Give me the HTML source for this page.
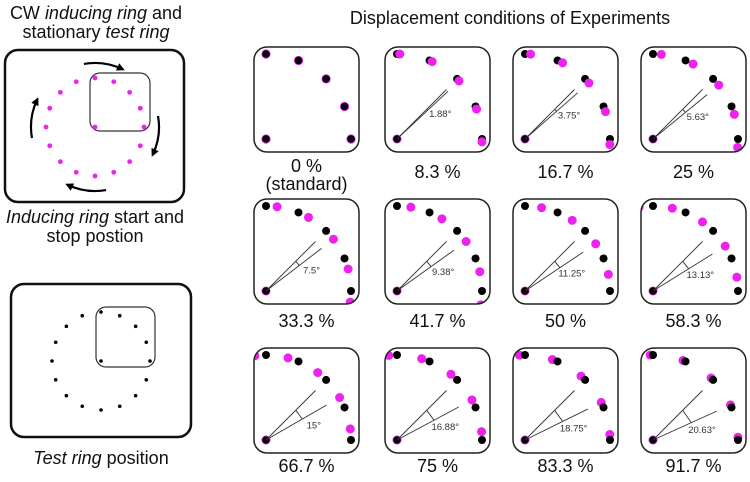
<!DOCTYPE html>
<html><head><meta charset="utf-8"><style>
html,body{margin:0;padding:0;background:#fff;}
svg{display:block;font-family:"Liberation Sans",sans-serif;}
</style></head><body>
<svg id="fig" width="750" height="482" viewBox="0 0 750 482" xmlns="http://www.w3.org/2000/svg">
<defs>
<marker id="ah" markerWidth="8" markerHeight="8" refX="5" refY="4" orient="auto" markerUnits="userSpaceOnUse"><path d="M0,0 L8,4 L0,8 Z" fill="#000"/></marker>
</defs>
<g font-size="18" text-anchor="middle" fill="#111">
<text x="96" y="19">CW <tspan font-style="italic">inducing ring</tspan> and</text>
<text x="96" y="38">stationary <tspan font-style="italic">test ring</tspan></text>
</g>
<rect x="5" y="50" width="179" height="152" rx="13" fill="none" stroke="#111" stroke-width="2.5"/>
<rect x="90" y="73" width="60" height="58" rx="10" fill="none" stroke="#333" stroke-width="1.2"/>
<g id="indRing"></g>
<g id="arrows"></g>
<g font-size="18" text-anchor="middle" fill="#111">
<text x="95" y="223"><tspan font-style="italic">Inducing ring</tspan> start and</text>
<text x="95" y="242">stop postion</text>
</g>
<rect x="11" y="284" width="180" height="153" rx="13" fill="none" stroke="#111" stroke-width="2.5"/>
<rect x="96" y="307" width="59" height="60" rx="10" fill="none" stroke="#333" stroke-width="1.2"/>
<g id="testRing"></g>
<text x="101" y="464" font-size="18" text-anchor="middle" fill="#111"><tspan font-style="italic">Test ring</tspan> position</text>
<text x="510" y="24" font-size="18" text-anchor="middle" fill="#111">Displacement conditions of Experiments</text>
<g id="panels"></g>
</svg>
<script>
const conditionLabels = ["0 %","8.3 %","16.7 %","25 %","33.3 %","41.7 %","50 %","58.3 %","66.7 %","75 %","83.3 %","91.7 %"];
const displacementDeg = [0,1.88,3.75,5.63,7.5,9.38,11.25,13.13,15,16.88,18.75,20.63];
const angleLabels = ["","1.88°","3.75°","5.63°","7.5°","9.38°","11.25°","13.13°","15°","16.88°","18.75°","20.63°"];

const NS="http://www.w3.org/2000/svg";
function mk(tag,attrs,parent){const e=document.createElementNS(NS,tag);for(const k in attrs)e.setAttribute(k,attrs[k]);parent.appendChild(e);return e;}
const rad=a=>a*Math.PI/180;

function ring(g,cx,cy,r,color,rr){
  for(let k=0;k<16;k++){const a=rad(k*22.5);
    const c=mk('circle',{cx:cx+r*Math.cos(a),cy:cy-r*Math.sin(a),r:rr,fill:color},g);
    
    }
  const c=mk('circle',{cx:cx,cy:cy,r:rr,fill:color},g);
  
  
}
ring(document.getElementById('indRing'),95,127,49,'#ee22ee',2.4);
ring(document.getElementById('testRing'),101,361,49,'#000',1.8);
const ag=document.getElementById('arrows');
[[100,65],[10,-25],[-80,-115],[-170,-205]].forEach(([a0,a1])=>{
  const R=64,cx=95,cy=127;
  const p=mk('path',{d:`M${cx+R*Math.cos(rad(a0))},${cy-R*Math.sin(rad(a0))} A${R},${R} 0 0 1 ${cx+R*Math.cos(rad(a1))},${cy-R*Math.sin(rad(a1))}`,fill:'none',stroke:'#000','stroke-width':2.2,'marker-end':'url(#ah)'},ag);
  
  
});

const colX=[254,385,513,641], rowY=[47,199,348], W=105, H=105, labBase=[178,327,472];
const pg=document.getElementById('panels');
displacementDeg.forEach((d,i)=>{
  const x=colX[i%4], y=rowY[Math.floor(i/4)];
  const g=mk('g',{},pg);
  
  
  const cp=mk('clipPath',{id:'cp'+i},g);
  mk('rect',{x:x,y:y,width:W,height:H,rx:13},cp);
  const cx=x+12, cy=y+92, R=85;
  const dots=mk('g',{'clip-path':`url(#cp${i})`},g);
  const drawSet=(color,rr,off,n)=>{for(let k=0;k<n;k++){const a=rad(k*22.5-off);
    const c=mk('circle',{cx:cx+R*Math.cos(a),cy:cy-R*Math.sin(a),r:rr,fill:color},dots);
    
    }};
  const center=(color,rr)=>{const c=mk('circle',{cx:cx,cy:cy,r:rr,fill:color},dots);
    
    };
  if(d===0){drawSet('#ee22ee',4.6,0,5);drawSet('#000',3.8,0,5);center('#ee22ee',4.6);center('#000',3.8);}
  else if(d<11){drawSet('#000',4,0,5);drawSet('#ee22ee',4.5,d,6);center('#ee22ee',4.5);center('#000',3.8);}
  else {drawSet('#ee22ee',4.5,d,6);drawSet('#000',4,0,5);center('#ee22ee',4.5);center('#000',3.8);}
  const fr=mk('rect',{x:x,y:y,width:W,height:H,rx:13,fill:'none',stroke:'#222','stroke-width':1.5},g);
  
  
  if(d>0){
    const L=70;
    [45,45-d].forEach(a=>{const l=mk('line',{x1:cx,y1:cy,x2:cx+L*Math.cos(rad(a)),y2:cy-L*Math.sin(rad(a)),stroke:'#333','stroke-width':0.9},g);
      
      });
    const r2=42;
    const t=mk('line',{x1:cx+r2*Math.cos(rad(45)),y1:cy-r2*Math.sin(rad(45)),x2:cx+r2*Math.cos(rad(45-d)),y2:cy-r2*Math.sin(rad(45-d)),stroke:'#333','stroke-width':0.9},g);
    
    
    const la=rad(45-d-13), lr=50;
    const tx=mk('text',{x:cx+lr*Math.cos(la),y:cy-lr*Math.sin(la)+3,'font-size':9.5,'text-anchor':'middle',fill:'#333'},g);
    tx.textContent=angleLabels[i];
    
    
  }
  const row=Math.floor(i/4);
  let by=labBase[row]; if(i===0) by=172;
  const lt=mk('text',{x:x+W/2,y:by,'font-size':18,'text-anchor':'middle',fill:'#111'},g);
  lt.textContent=conditionLabels[i];
  
  
  if(i===0){const s=mk('text',{x:x+W/2,y:190,'font-size':18,'text-anchor':'middle',fill:'#111'},g);
    s.textContent='(standard)';
    
    }
});
</script>
</body></html>
